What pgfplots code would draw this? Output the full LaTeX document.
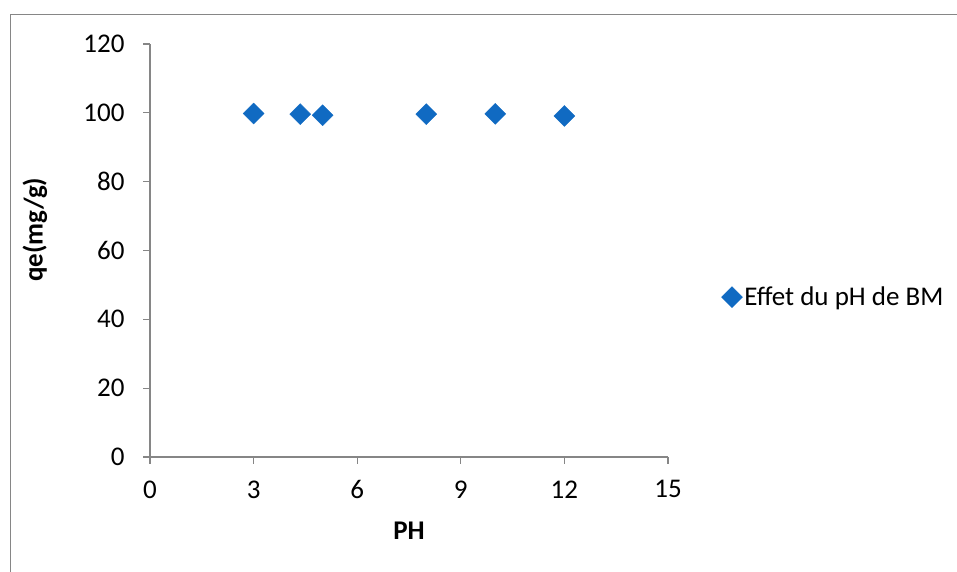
\documentclass[border=0pt]{standalone}
\usepackage{pgfplots}
\pgfplotsset{compat=1.18}
\usepackage{fontspec}
\setmainfont{Carlito}
\definecolor{axgray}{RGB}{134,134,134}
\definecolor{frgray}{RGB}{134,134,134}
\definecolor{mblue}{RGB}{16,106,194}
\begin{document}
\begin{tikzpicture}
\path[use as bounding box] (0,0) rectangle (957bp,572bp);
\draw[frgray, line width=1.5bp] (10.5bp,0) -- (10.5bp,557.5bp) -- (957bp,557.5bp);
\begin{axis}[
  at={(150bp,115bp)}, anchor=south west,
  scale only axis, width=518bp, height=413bp,
  xmin=0, xmax=15, ymin=0, ymax=120,
  xtick={0,3,...,15}, ytick={0,20,...,120},
  axis lines=left, axis line style={-, axgray, line width=1.3bp},
  tick style={axgray, line width=1.3bp},
  tick align=outside, major tick length=7bp,
  font=\fontsize{27bp}{32bp}\selectfont,
  /pgf/number format/assume math mode=true,
  xticklabel style={yshift=-13bp},
  yticklabel style={xshift=-15bp},
  xlabel={\bfseries PH}, ylabel={\bfseries qe(mg/g)},
  xlabel style={font=\fontsize{27bp}{32bp}\selectfont, at={(0.5,-0.178)}, anchor=center},
  ylabel style={font=\fontsize{27bp}{32bp}\selectfont, at={(-0.222,0.55)}, anchor=center},
  legend style={at={(1.103,0.387)}, anchor=west, draw=none, fill=none,
    font=\fontsize{27bp}{32bp}\selectfont, inner sep=0pt},
  legend image code/.code={\draw[#1] plot coordinates {(0.15cm,0cm)};},
  clip=false,
]
\addplot[only marks, mark=square*, mark size=7.4bp, mblue, mark options={fill=mblue, draw=mblue, rotate=45}]
coordinates {
(3,99.8) (4.35,99.6) (5,99.3) (8,99.6) (10,99.7) (12,99.1)
};
\addlegendentry{Effet du pH de BM}
\end{axis}
\end{tikzpicture}
\end{document}
